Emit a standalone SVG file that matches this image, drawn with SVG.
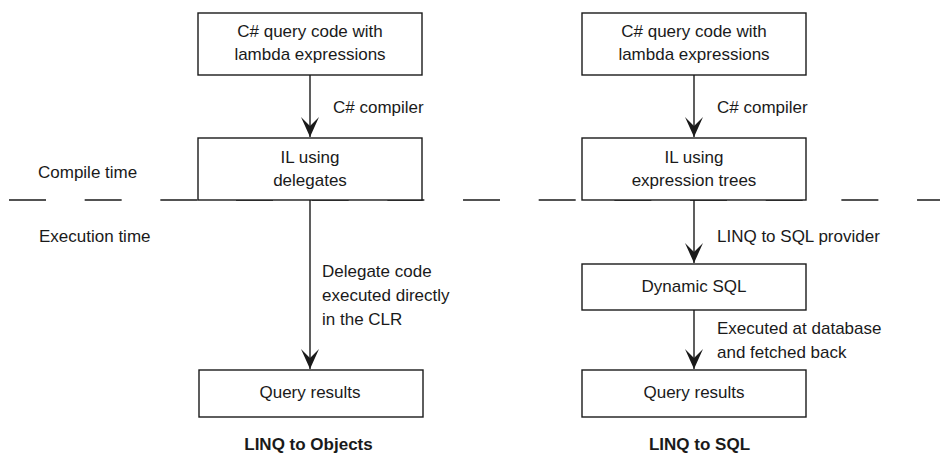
<svg xmlns="http://www.w3.org/2000/svg" width="940" height="454" viewBox="0 0 940 454">
<defs>
<style>
.box{fill:#fff;stroke:#1a1a1a;stroke-width:1.4}
.t{font-family:"Liberation Sans",Arial,sans-serif;font-size:17px;fill:#1a1a1a}
.c{text-anchor:middle}
.b{font-weight:bold}
.conn{stroke:#1a1a1a;stroke-width:1.4;fill:none}
</style>
<marker id="arr" markerUnits="userSpaceOnUse" markerWidth="22" markerHeight="20" viewBox="-21 -10 22 20" refX="0" refY="0" orient="auto">
<path d="M0,0 L-20,-9 L-11,0 L-20,9 Z" fill="#1a1a1a"/>
</marker>
</defs>
<rect width="940" height="454" fill="#fff"/>
<g id="divider">
<line x1="9" y1="200" x2="940" y2="200" stroke="#1a1a1a" stroke-width="1.4" stroke-dasharray="37 38.67"/>
<text class="t" x="38" y="178">Compile time</text>
<text class="t" x="39" y="242">Execution time</text>
</g>
<g id="connectors">
<line class="conn" x1="310" y1="75" x2="310" y2="137" marker-end="url(#arr)"/>
<line class="conn" x1="310" y1="200" x2="310" y2="369" marker-end="url(#arr)"/>
<line class="conn" x1="694" y1="75" x2="694" y2="137" marker-end="url(#arr)"/>
<line class="conn" x1="694" y1="200" x2="694" y2="263" marker-end="url(#arr)"/>
<line class="conn" x1="694" y1="310" x2="694" y2="369" marker-end="url(#arr)"/>
<text class="t" x="333" y="113">C# compiler</text>
<text class="t" x="322" y="277">Delegate code</text>
<text class="t" x="322" y="301">executed directly</text>
<text class="t" x="322" y="325">in the CLR</text>
<text class="t" x="717" y="113">C# compiler</text>
<text class="t" x="717" y="242">LINQ to SQL provider</text>
<text class="t" x="717" y="334">Executed at database</text>
<text class="t" x="717" y="358">and fetched back</text>
</g>
<g id="l-src">
<rect class="box" x="198" y="13" width="224" height="62"/>
<text class="t c" x="310" y="37">C# query code with</text>
<text class="t c" x="310" y="60">lambda expressions</text>
</g>
<g id="l-il">
<rect class="box" x="198" y="138" width="224" height="62"/>
<text class="t c" x="310" y="163">IL using</text>
<text class="t c" x="310" y="186">delegates</text>
</g>
<g id="l-res">
<rect class="box" x="199" y="370" width="224" height="47"/>
<text class="t c" x="310" y="398">Query results</text>
</g>
<g id="r-src">
<rect class="box" x="582" y="13" width="224" height="62"/>
<text class="t c" x="694" y="37">C# query code with</text>
<text class="t c" x="694" y="60">lambda expressions</text>
</g>
<g id="r-il">
<rect class="box" x="582" y="138" width="224" height="62"/>
<text class="t c" x="694" y="163">IL using</text>
<text class="t c" x="694" y="186">expression trees</text>
</g>
<g id="r-sql">
<rect class="box" x="582" y="264" width="224" height="46"/>
<text class="t c" x="694" y="292">Dynamic SQL</text>
</g>
<g id="r-res">
<rect class="box" x="582" y="370" width="224" height="47"/>
<text class="t c" x="694" y="398">Query results</text>
</g>
<g id="captions">
<text class="t c b" x="308.5" y="450">LINQ to Objects</text>
<text class="t c b" x="699.5" y="450">LINQ to SQL</text>
</g>
</svg>
